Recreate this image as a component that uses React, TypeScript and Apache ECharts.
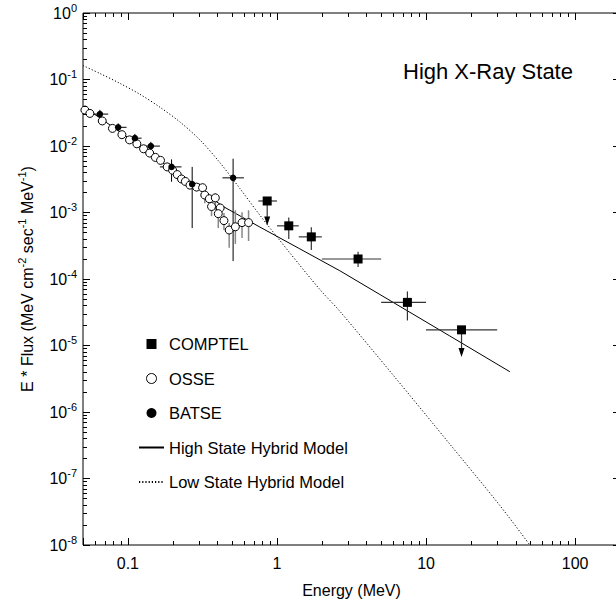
import React, { useEffect, useRef } from 'react';
import * as echarts from 'echarts';

const FONT = '"Liberation Sans", Arial, Helvetica, sans-serif';

// axis ranges and tick labels
const energyRange = [0.05, 200];
const fluxRange = [1e-8, 1];
const xTickLabels = ['0.1', '1', '10', '100'];
const xMajorTicks = [0.1, 1, 10, 100];
const yTickExponents = [0, -1, -2, -3, -4, -5, -6, -7, -8];
const minorMultipliers = [2, 3, 4, 5, 6, 7, 8, 9];

// COMPTEL (energy bins, flux, flux errors, upper limits)
const comptelE = [0.86, 1.2, 1.7, 3.5, 7.5, 17.3];
const comptelElo = [0.75, 1.0, 1.4, 2.0, 5.0, 10.0];
const comptelEhi = [1.0, 1.4, 2.0, 5.0, 10.0, 30.0];
const comptelF = [1.49e-3, 6.3e-4, 4.3e-4, 2.0e-4, 4.45e-5, 1.72e-5];
const comptelFlo = [6.4e-4, 4.0e-4, 2.74e-4, 1.51e-4, 2.38e-5, 6.7e-6];
const comptelFhi = [null, 8.4e-4, 6.0e-4, 2.56e-4, 6.5e-5, null];
const comptelUpperLimit = [1, 0, 0, 0, 0, 1];

// OSSE
const osseE = [0.0515, 0.0556, 0.0673, 0.0788, 0.0912, 0.1026, 0.1149, 0.1274, 0.140, 0.1529,
  0.1656, 0.1835, 0.1995, 0.2143, 0.229, 0.243, 0.2608, 0.289, 0.317, 0.328,
  0.352, 0.386, 0.364, 0.416, 0.404, 0.441, 0.478, 0.526, 0.583, 0.645];
const osseF = [0.0347, 0.0309, 0.0238, 0.0184, 0.0148, 0.01236, 0.01079, 0.00908, 0.00783, 0.00674,
  0.00608, 0.00485, 0.00432, 0.00372, 0.00319, 0.00293, 0.00258, 0.00241, 0.00236, 0.00183,
  0.00161, 0.00166, 0.00123, 0.00117, 0.00096, 0.000755, 0.000545, 0.00061, 0.000705, 0.000705];
const osseFlo = [null, null, null, null, null, null, null, null, null, null,
  null, null, null, null, null, null, null, null, null, 1.38e-3,
  null, 1.09e-3, 8.8e-4, null, 5.83e-4, 5.45e-4, 2.94e-4, 3.37e-4, 4.14e-4, 3.73e-4];
const osseFhi = [null, null, null, null, null, null, null, null, null, null,
  null, null, null, null, null, null, null, null, null, 2.08e-3,
  null, 1.94e-3, 1.37e-3, null, 1.24e-3, 9.8e-4, 6.93e-4, 1.08e-3, 1.01e-3, 1.08e-3];

// BATSE
const batseE = [0.0649, 0.0861, 0.1114, 0.1426, 0.1963, 0.270, 0.508];
const batseElo = [0.0594, 0.0797, 0.1031, 0.130, 0.164, 0.244, 0.431];
const batseEhi = [0.0738, 0.098, 0.1236, 0.164, 0.229, 0.304, 0.600];
const batseF = [0.0302, 0.0191, 0.01312, 0.00997, 0.00485, 0.00267, 0.00332];
const batseFlo = [0.026, 0.01667, 0.01143, 0.00849, 0.0029, 0.000583, 0.000186];
const batseFhi = [0.035, 0.0219, 0.0152, 0.01155, 0.00629, 0.00485, 0.00644];

// models
const highModelE = [0.05, 0.1031, 0.1639, 0.2604, 0.4336, 0.768, 1.424, 2.642, 4.898, 14.44, 36.5];
const highModelF = [0.0397, 0.0128, 0.00601, 0.00283, 0.00124, 6.04e-4, 2.84e-4, 1.33e-4, 5.85e-5, 1.39e-5, 4.03e-6];
const lowModelE = [0.05, 0.0649, 0.0884, 0.1204, 0.1639, 0.2233, 0.3041, 0.4142, 0.5639, 0.768, 1.22, 1.94, 2.642, 5.99, 14.44, 31.3, 49.7];
const lowModelF = [0.162, 0.1233, 0.0875, 0.06, 0.0384, 0.023, 0.01236, 0.00562, 0.0023, 9.12e-4, 2.47e-4, 6.95e-5, 3.27e-5, 3.63e-6, 3.29e-7, 3.92e-8, 1e-8];

const pairs = (xs: number[], ys: number[]) => xs.map((x, i) => [x, ys[i]]);
const orElse = (v: number | null, d: number) => (v == null ? d : v);

function errRows(E: number[], F: number[], Elo: (number | null)[] | null, Ehi: (number | null)[] | null,
  Flo: (number | null)[], Fhi: (number | null)[], ul: number[] | null) {
  return E.map((e, i) => [
    e, F[i],
    Elo ? orElse(Elo[i], e) : e,
    Ehi ? orElse(Ehi[i], e) : e,
    orElse(Flo[i], F[i]),
    orElse(Fhi[i], F[i]),
    ul ? ul[i] : 0,
  ]);
}

function makeErrRender(color: string, width: number) {
  return (params: any, api: any) => {
    const e = api.value(0), f = api.value(1);
    const elo = api.value(2), ehi = api.value(3), flo = api.value(4), fhi = api.value(5);
    const ul = api.value(6);
    const st = { stroke: color, lineWidth: width };
    const c = api.coord([e, f]);
    const children: any[] = [];
    const l = api.coord([elo, f]), r = api.coord([ehi, f]);
    if (r[0] - l[0] > 0.5) children.push({ type: 'line', shape: { x1: l[0], y1: c[1], x2: r[0], y2: c[1] }, style: st });
    const t = api.coord([e, fhi]), b = api.coord([e, flo]);
    if (ul) {
      children.push({ type: 'line', shape: { x1: c[0], y1: c[1], x2: c[0], y2: b[1] - 4 }, style: st });
      children.push({ type: 'polygon', shape: { points: [[c[0] - 3, b[1] - 9], [c[0] + 3, b[1] - 9], [c[0], b[1]]] }, style: { fill: '#000' } });
    } else if (b[1] - t[1] > 0.5) {
      children.push({ type: 'line', shape: { x1: c[0], y1: t[1], x2: c[0], y2: b[1] }, style: st });
    }
    return { type: 'group', children };
  };
}

// minor ticks (2..9 per decade) as short mark lines; log axes make a fixed ratio a fixed pixel length
const X_MINOR_RATIO = Math.pow(10, 4 / 67.1); // ~4 px on the flux axis
const Y_MINOR_RATIO = Math.pow(10, 4 / 149.1); // ~4 px on the energy axis
function minorTickLines() {
  const lines: any[] = [];
  for (let k = -2; k <= 2; k++) {
    minorMultipliers.forEach((m) => {
      const v = m * Math.pow(10, k);
      if (v > energyRange[0] * 1.0001 && v < energyRange[1] * 0.9999) {
        lines.push([{ coord: [v, fluxRange[0]] }, { coord: [v, fluxRange[0] * X_MINOR_RATIO] }]);
        lines.push([{ coord: [v, fluxRange[1]] }, { coord: [v, fluxRange[1] / X_MINOR_RATIO] }]);
      }
    });
  }
  for (let k = -8; k <= -1; k++) {
    minorMultipliers.forEach((m) => {
      const v = m * Math.pow(10, k);
      lines.push([{ coord: [energyRange[0], v] }, { coord: [energyRange[0] * Y_MINOR_RATIO, v] }]);
      lines.push([{ coord: [energyRange[1], v] }, { coord: [energyRange[1] / Y_MINOR_RATIO, v] }]);
    });
  }
  return lines;
}

const supRich = {
  b: { fontSize: 16, lineHeight: 22, fontFamily: FONT, color: '#000' },
  s: { fontSize: 11, lineHeight: 11, verticalAlign: 'top', fontFamily: FONT, color: '#000' },
};

const hiddenSymbol = { color: 'rgba(0,0,0,0)', borderColor: 'rgba(0,0,0,0)', borderWidth: 0, opacity: 0 };
const majorTick = { show: true, inside: true, length: 7, lineStyle: { color: '#000', width: 1 } };

const xLabelFormatter = (v: number) => {
  const l = Math.log10(v); const e = Math.round(l);
  if (Math.abs(l - e) > 1e-6) return '';
  return xTickLabels[e + 1] ?? '';
};
const yLabelFormatter = (v: number) => {
  const l = Math.log10(v); const e = Math.round(l);
  if (Math.abs(l - e) > 1e-6 || !yTickExponents.includes(e)) return '';
  return `{b|10}{s|${e}}`;
};

export default function App() {
  const ref = useRef<HTMLDivElement>(null);
  useEffect(() => {
    document.body.style.margin = '0';
    const chart = echarts.init(ref.current!, undefined, { renderer: 'svg' });
    const xBase = {
      type: 'log', logBase: 10, min: energyRange[0], max: energyRange[1],
      axisLine: { show: false }, splitLine: { show: false }, minorTick: { show: false },
      axisTick: majorTick,
    };
    const yBase = {
      type: 'log', logBase: 10, min: fluxRange[0], max: fluxRange[1],
      axisLine: { show: false }, splitLine: { show: false }, minorTick: { show: false },
      axisTick: majorTick,
    };
    const option: any = {
      animation: false,
      backgroundColor: '#fff',
      textStyle: { fontFamily: FONT },
      title: {
        text: 'High X-Ray State', left: 403, top: 60, padding: 0,
        textStyle: { fontSize: 22, fontWeight: 'normal', color: '#000', fontFamily: FONT },
      },
      grid: { left: 83, top: 13, width: 537, height: 537, show: true, borderColor: '#000', borderWidth: 1, backgroundColor: 'transparent' },
      legend: {
        orient: 'vertical', left: 138, top: 334, itemWidth: 25, itemHeight: 10, itemGap: 14.5, padding: 0,
        selectedMode: false, symbolKeepAspect: true,
        textStyle: { fontSize: 16.5, fontFamily: FONT, color: '#000', lineHeight: 20 },
        data: [
          { name: 'COMPTEL', icon: 'path://M0,0H10V10H0Z', itemStyle: { color: '#000' } },
          { name: 'OSSE', icon: 'circle', itemStyle: { color: '#fff', borderColor: '#000', borderWidth: 1 } },
          { name: 'BATSE', icon: 'circle', itemStyle: { color: '#000' } },
          { name: 'High State Hybrid Model', itemStyle: hiddenSymbol },
          { name: 'Low State Hybrid Model', itemStyle: hiddenSymbol },
        ],
      },
      xAxis: [
        {
          ...xBase, position: 'bottom',
          name: 'Energy (MeV)', nameLocation: 'middle', nameGap: 37,
          nameTextStyle: { fontSize: 16, color: '#000', fontFamily: FONT },
          axisLabel: { fontSize: 16, color: '#000', margin: 10, fontFamily: FONT, showMinLabel: true, showMaxLabel: true, formatter: xLabelFormatter },
        },
        { ...xBase, position: 'top', axisLabel: { show: false } },
      ],
      yAxis: [
        {
          ...yBase, position: 'left',
          name: '{b|E * Flux (MeV cm}{s|-2}{b| sec}{s|-1}{b| MeV}{s|-1}{b|)}',
          nameLocation: 'middle', nameRotate: 90, nameGap: 45,
          nameTextStyle: { fontSize: 16, color: '#000', fontFamily: FONT, rich: supRich },
          axisLabel: { margin: 6, fontFamily: FONT, color: '#000', showMinLabel: true, showMaxLabel: true, rich: supRich, formatter: yLabelFormatter },
        },
        { ...yBase, position: 'right', axisLabel: { show: false } },
      ],
      series: [
        {
          type: 'line', name: 'minor ticks', data: [[1, 1e-4]], symbol: 'none', silent: true,
          lineStyle: { width: 0 }, z: 6,
          markLine: {
            silent: true, symbol: ['none', 'none'], label: { show: false }, animation: false,
            lineStyle: { color: '#000', width: 1, type: 'solid' },
            emphasis: { disabled: true },
            data: minorTickLines(),
          },
        },
        {
          type: 'line', name: 'High State Hybrid Model', data: pairs(highModelE, highModelF), symbol: 'none',
          itemStyle: { color: '#000' }, lineStyle: { color: '#000', width: 1 }, z: 2, silent: true,
        },
        {
          type: 'line', name: 'Low State Hybrid Model', data: pairs(lowModelE, lowModelF), symbol: 'none', smooth: 0.3,
          itemStyle: { color: '#000' }, lineStyle: { color: '#000', width: 1, type: [1.2, 2] }, z: 2, silent: true,
        },
        {
          type: 'custom', name: 'OSSE errors', silent: true, renderItem: makeErrRender('#888', 1.5), z: 3,
          data: errRows(osseE, osseF, null, null, osseFlo, osseFhi, null),
        },
        {
          type: 'custom', name: 'BATSE errors', silent: true, renderItem: makeErrRender('#000', 1), z: 3,
          data: errRows(batseE, batseF, batseElo, batseEhi, batseFlo, batseFhi, null),
        },
        {
          type: 'custom', name: 'COMPTEL errors', silent: true, renderItem: makeErrRender('#333', 1.2), z: 3,
          data: errRows(comptelE, comptelF, comptelElo, comptelEhi, comptelFlo, comptelFhi, comptelUpperLimit),
        },
        {
          type: 'scatter', name: 'OSSE', data: pairs(osseE, osseF), symbol: 'circle', symbolSize: 8,
          itemStyle: { color: '#fff', borderColor: '#000', borderWidth: 1, opacity: 1 }, z: 4, silent: true,
        },
        {
          type: 'scatter', name: 'BATSE', data: pairs(batseE, batseF), symbol: 'circle', symbolSize: 6.5,
          itemStyle: { color: '#000', opacity: 1 }, z: 5, silent: true,
        },
        {
          type: 'scatter', name: 'COMPTEL', data: pairs(comptelE, comptelF), symbol: 'rect', symbolSize: 9,
          itemStyle: { color: '#000', opacity: 1 }, z: 5, silent: true,
        },
      ],
    };
    chart.setOption(option);
    return () => chart.dispose();
  }, []);
  return (
    <div style={{ width: 616, height: 603, overflow: 'hidden', position: 'relative', background: '#fff' }}>
      <div ref={ref} style={{ width: 624, height: 603 }} />
    </div>
  );
}
